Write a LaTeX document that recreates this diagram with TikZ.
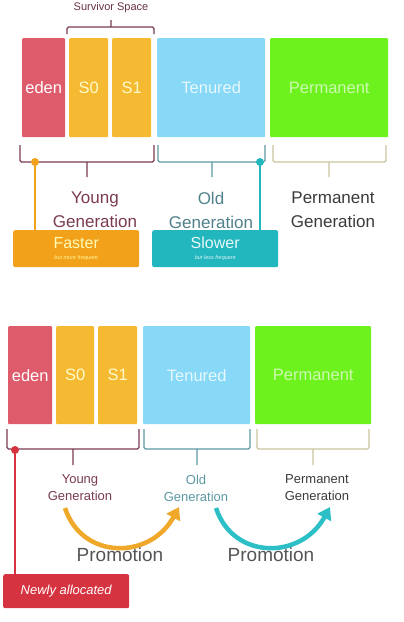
\documentclass[tikz,border=0pt]{standalone}
\usepackage{fontspec}
\setmainfont{Liberation Sans}
\usetikzlibrary{arrows.meta,positioning}
\definecolor{edenred}{HTML}{DE5B6C}\definecolor{survyellow}{HTML}{F5B932}
\definecolor{tenblue}{HTML}{87D9F7}\definecolor{permgreen}{HTML}{6DF21E}
\definecolor{youngcol}{HTML}{7A3A52}\definecolor{oldcol}{HTML}{5C98A2}
\definecolor{permcol}{HTML}{C8C69E}\definecolor{permtext}{HTML}{3A3A3A}
\definecolor{fastorange}{HTML}{F2A11B}\definecolor{slowteal}{HTML}{22B6BE}
\definecolor{newred}{HTML}{D63340}\definecolor{promgrey}{HTML}{555555}
\definecolor{arrorange}{HTML}{EFA82A}\definecolor{arrteal}{HTML}{2DBFC6}

\begin{document}
\begin{tikzpicture}[x=1pt,y=-1pt,>=Stealth,
  area/.style={anchor=north west,inner sep=0,rounded corners=1pt,font=\fontsize{16.5}{18}\selectfont},
  gen/.style={align=center,inner sep=0,font=\fontsize{17}{24}\selectfont},
  gensmall/.style={align=center,inner sep=0,font=\fontsize{13}{17}\selectfont},
  tag/.style={anchor=north west,inner sep=0,rounded corners=2pt,minimum width=126pt,align=center},
  brack/.style={line width=1.3pt,rounded corners=1.5pt}]
\useasboundingbox (0,0) rectangle (404,622);
% upper panel
\node[area,fill=edenred,text=white,minimum width=43pt,minimum height=99pt] (eden1) at (22,38) {eden};
\node[area,fill=survyellow,text=yellow!20,minimum width=39pt,minimum height=99pt] (sa1) at (69,38) {S0};
\node[area,fill=survyellow,text=yellow!20,minimum width=39pt,minimum height=99pt] (sb1) at (112,38) {S1};
\node[area,fill=tenblue,text=white!80!tenblue,minimum width=108pt,minimum height=99pt] (ten1) at (157,38) {Tenured};
\node[area,fill=permgreen,text=white!65!permgreen,minimum width=118pt,minimum height=99pt] (perm1) at (270,38) {Permanent};
\node[inner sep=0,font=\fontsize{11}{12}\selectfont,text=youngcol!85!black] (surv) at (111,8) {Survivor Space};
\draw[brack,youngcol] (67,34) -- (67,27) -- (154,27) -- (154,34) (111,27) -- (111,20);
\foreach \a/\b/\m/\c in {20/154/87/youngcol,158/265/212/oldcol,273/386/329/permcol}
  \draw[brack,\c] (\a,145) -- (\a,162) -- (\b,162) -- (\b,145) (\m,162) -- (\m,177);
\node[gen,text=youngcol] (young1) at (95,210) {Young\\Generation};
\node[gen,text=oldcol!85!black] (old1) at (211,210) {Old\\Generation};
\node[gen,text=permtext] (perm1t) at (333,210) {Permanent\\Generation};
\node[tag,fill=fastorange,minimum height=37pt] (fast) at (13,230) {{\fontsize{16}{16}\selectfont\color{yellow!30}Faster}\\[-1pt]{\fontsize{5.5}{6}\selectfont\itshape\color{yellow!40}but more frequent}};
\node[tag,fill=slowteal,minimum height=37pt] (slow) at (152,230) {{\fontsize{16}{16}\selectfont\color{white!90!slowteal}Slower}\\[-1pt]{\fontsize{5.5}{6}\selectfont\itshape\color{white!85!slowteal}but less frequent}};
\coordinate (fdot) at (35,162);\coordinate (sdot) at (260,162);
\draw[fastorange,line width=2.5pt] (fdot) -- (fdot |- fast.north);\fill[fastorange] (fdot) circle (4pt);
\draw[slowteal,line width=2.5pt] (sdot) -- (sdot |- slow.north);\fill[slowteal] (sdot) circle (4pt);
% lower panel
\node[area,fill=edenred,text=white,minimum width=44pt,minimum height=98pt] (eden2) at (8,326) {eden};
\node[area,fill=survyellow,text=yellow!20,minimum width=38pt,minimum height=98pt] (sa2) at (56,326) {S0};
\node[area,fill=survyellow,text=yellow!20,minimum width=39pt,minimum height=98pt] (sb2) at (98,326) {S1};
\node[area,fill=tenblue,text=white!80!tenblue,minimum width=107pt,minimum height=98pt] (ten2) at (143,326) {Tenured};
\node[area,fill=permgreen,text=white!65!permgreen,minimum width=116pt,minimum height=98pt] (perm2) at (255,326) {Permanent};
\foreach \a/\b/\m/\c in {7/139/73/youngcol,144/250/197/oldcol,257/369/313/permcol}
  \draw[brack,\c] (\a,429) -- (\a,449) -- (\b,449) -- (\b,429) (\m,449) -- (\m,465);
\node[gensmall,text=youngcol] (young2) at (80,488) {Young\\Generation};
\node[gensmall,text=oldcol] (old2) at (196,488) {Old\\Generation};
\node[gensmall,text=permtext] (perm2t) at (317,488) {Permanent\\Generation};
\node[tag,fill=newred,minimum height=34pt,font=\fontsize{13}{14}\selectfont\itshape,text=white] (newly) at (3,574) {Newly allocated};
\coordinate (ndot) at (15,450);
\draw[newred,line width=2pt] (ndot) -- (ndot |- newly.north);\fill[newred] (ndot) circle (4pt);
\coordinate (ya) at (65,508);\coordinate (yb) at (179,507);
\coordinate (oa) at (216,508);\coordinate (ob) at (330,507);
\draw[arrorange,line width=4.5pt,-{Triangle[length=12pt,width=15pt]}] (ya) .. controls (82,560) and (150,560) .. (yb);
\draw[arrteal,line width=4.5pt,-{Triangle[length=12pt,width=15pt]}] (oa) .. controls (233,560) and (301,560) .. (ob);
\node[inner sep=0,font=\fontsize{19}{20}\selectfont,text=promgrey] (prom1) at (120,555) {Promotion};
\node[inner sep=0,font=\fontsize{19}{20}\selectfont,text=promgrey] (prom2) at (271,555) {Promotion};
\end{tikzpicture}
\end{document}
